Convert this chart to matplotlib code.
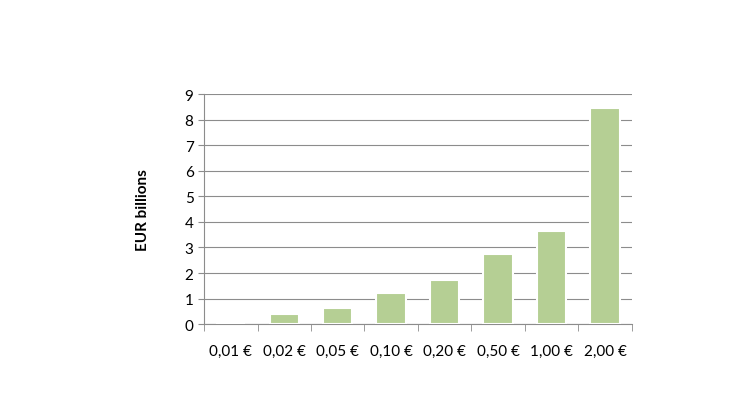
import matplotlib
matplotlib.use("Agg")
import matplotlib.pyplot as plt
import numpy as np

categories = ["0,01 €", "0,02 €", "0,05 €", "0,10 €", "0,20 €", "0,50 €", "1,00 €", "2,00 €"]
values = [0.0, 0.38, 0.62, 1.22, 1.72, 2.75, 3.65, 8.47]

plt.rcParams['font.family'] = ['Lato', 'DejaVu Sans']
fig = plt.figure(figsize=(7.3, 4.1), dpi=100)
ax = fig.add_axes([0.2795, 0.207, 0.586, 0.561])
x = np.arange(len(categories))
ax.bar(x, values, width=0.55, color="#b5cf94", edgecolor="white", linewidth=1.5, zorder=3)
ax.set_xlim(-0.5, len(categories) - 0.5)
ax.set_ylim(0, 9)
ax.set_yticks(range(10))
ax.yaxis.grid(True, color="#8c8c8c", linewidth=0.8, zorder=0)
ax.set_xticks(x)
ax.set_xticklabels(categories, fontsize=11)
ax.tick_params(axis='x', length=0, pad=14)
ax.set_xticks(np.arange(-0.5, len(categories) + 0.5, 1), minor=True)
ax.tick_params(axis='x', which='minor', length=5, color="#8c8c8c")
ax.tick_params(axis='y', labelsize=11, length=4, color="#8c8c8c")
for s in ["top", "right"]:
    ax.spines[s].set_visible(False)
for s in ["left", "bottom"]:
    ax.spines[s].set_color("#8c8c8c")
ax.set_ylabel("EUR billions", fontsize=11, fontweight="bold", labelpad=25)
fig.savefig("out.png", dpi=100)
